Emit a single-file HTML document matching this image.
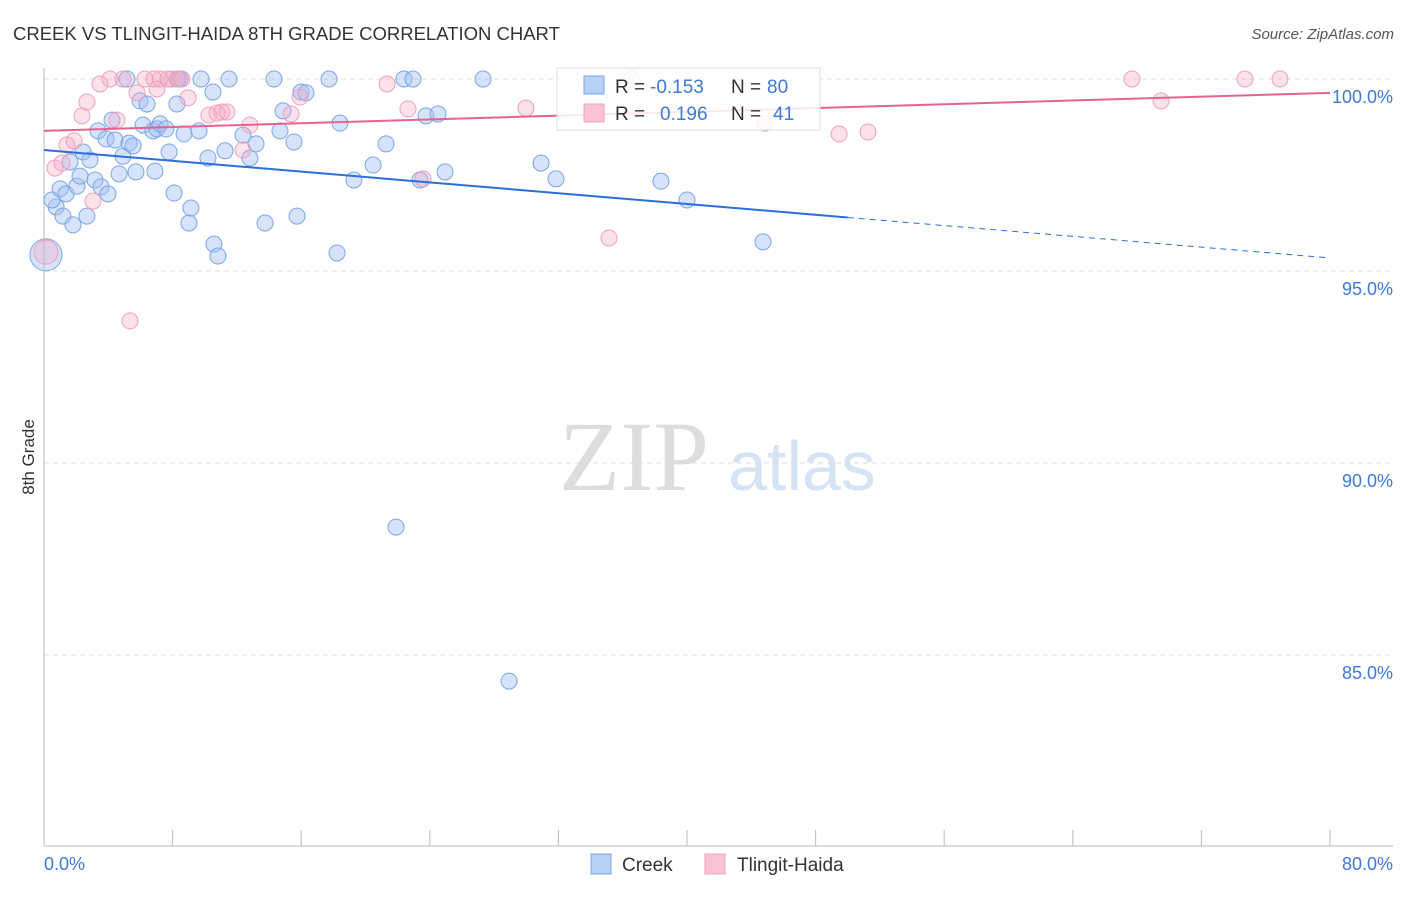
<!DOCTYPE html>
<html><head><meta charset="utf-8"><style>
body{margin:0;background:#fff;font-family:"Liberation Sans",sans-serif;}
</style></head><body>
<svg id="chart" width="1406" height="892" viewBox="0 0 1406 892" font-family="Liberation Sans, sans-serif">
<text x="13" y="40" font-size="18.5" fill="#333">CREEK VS TLINGIT-HAIDA 8TH GRADE CORRELATION CHART</text>
<text x="1394" y="39" font-size="15" fill="#555" font-style="italic" text-anchor="end">Source: ZipAtlas.com</text>
<text x="34" y="457" font-size="17" fill="#333" transform="rotate(-90 34 457)" text-anchor="middle">8th Grade</text>
<g>
<text x="634" y="490" font-size="100" fill="#ddd" style="font-family:'Liberation Serif',serif" text-anchor="middle">ZIP</text>
<text x="802" y="490" font-size="70" fill="#d6e3f5" text-anchor="middle">atlas</text>
</g>
<g id="grid"></g><g id="axes"></g><g id="pts"></g><g id="lines"></g>
<g>
<rect x="557" y="68" width="263" height="62" fill="#fff" fill-opacity="0.85" stroke="#ddd"/>
<rect x="584" y="76" width="20" height="18" fill="#b7d0f5" stroke="#7aa6e6"/>
<text y="93" font-size="19" fill="#333"><tspan x="615">R =</tspan><tspan x="650" fill="#3f78d8">-0.153</tspan><tspan x="731">N =</tspan><tspan x="767" fill="#3f78d8">80</tspan></text>
<rect x="584" y="104" width="20" height="18" fill="#f8c3d4" stroke="#f0a0bc"/>
<text y="120" font-size="19" fill="#333"><tspan x="615">R =</tspan><tspan x="660" fill="#3f78d8">0.196</tspan><tspan x="731">N =</tspan><tspan x="773" fill="#3f78d8">41</tspan></text>
</g>
<g>
<rect x="591" y="854" width="20" height="20" fill="#b7d0f5" stroke="#7aa6e6"/>
<text x="622" y="871" font-size="19" fill="#333">Creek</text>
<rect x="705" y="854" width="20" height="20" fill="#f8c3d4" stroke="#f0a0bc"/>
<text x="737" y="871" font-size="19" fill="#333">Tlingit-Haida</text>
</g>
</svg>
<script>
const creekX=[5.16,9.77,11.51,14.31,17.73,22.39,22.95,27.31,8.33,0.75,0.5,1.0,1.18,1.37,1.62,1.8,2.05,2.24,2.43,2.67,2.86,3.17,3.36,3.55,3.86,3.98,4.23,4.42,4.67,4.91,5.29,5.54,5.72,5.97,6.16,6.41,6.78,6.9,7.03,7.22,7.59,7.78,8.09,8.27,8.46,8.71,9.02,9.14,9.64,10.2,10.51,10.57,10.82,11.26,12.38,12.81,13.19,13.75,14.68,14.87,15.55,15.74,15.99,16.3,18.23,18.41,19.28,20.47,21.28,21.9,23.39,23.76,24.51,24.95,28.93,30.92,31.85,38.38,40.0,44.73];
const creekY=[100,100,100,100,100,100,100,100,100,96.67,96.85,97.14,96.43,97.01,97.84,96.2,97.21,97.47,98.1,96.43,97.89,97.37,98.65,97.19,98.44,97.01,98.93,98.41,97.53,97.99,98.33,98.26,97.58,99.43,98.8,99.35,98.65,97.6,98.7,98.83,98.7,98.1,97.03,99.35,100,98.57,96.25,96.64,98.65,97.94,99.66,95.7,95.39,98.13,98.54,97.94,98.31,96.25,98.65,99.17,98.36,96.43,99.66,99.64,95.47,98.85,97.37,97.76,98.31,88.33,97.37,99.04,99.09,97.58,84.32,97.81,97.4,97.34,96.85,95.76];
const tlX=[0.68,1.12,1.43,1.87,2.36,2.67,3.05,3.48,4.11,4.54,4.91,5.35,5.79,6.28,6.84,7.03,7.22,7.71,7.96,8.27,8.58,8.96,10.26,10.76,11.07,11.38,12.38,12.81,15.37,15.93,21.34,22.64,23.58,29.98,35.15,36.58,44.85,49.46,51.26,67.68,69.49,74.71,76.89];
const tlY=[97.68,97.81,98.28,98.39,99.04,99.4,96.82,99.87,100,98.93,100,93.7,99.64,100,100,99.74,100,100,100,100,100,99.51,99.06,99.11,99.14,99.14,98.15,98.8,99.09,99.53,99.87,99.22,97.4,99.24,95.86,100,98.85,98.57,98.62,100,99.43,100,100];
const yTicks=[100,95,90,85];
const yTickLabels=["100.0%","95.0%","90.0%","85.0%"];
const creekTrend=[98.15,95.34]; const creekSolidEnd=50;
const tlTrend=[98.65,99.64];
const X0=44,X1=1330;
const sx=v=>X0+(v/80)*(X1-X0);
const sy=v=>79+(100-v)*38.4;
const NS="http://www.w3.org/2000/svg";
function mk(t,p,a){const e=document.createElementNS(NS,t);for(const k in a)e.setAttribute(k,a[k]);p.appendChild(e);return e;}
const grid=document.getElementById('grid'),axes=document.getElementById('axes'),pts=document.getElementById('pts'),lines=document.getElementById('lines');
yTicks.forEach((t,i)=>{
 const l=mk('line',grid,{x1:X0,x2:X1+60,y1:sy(t),y2:sy(t),stroke:'#ddd','stroke-dasharray':'5,4'});
 
 
 const tx=mk('text',axes,{x:1393,y:sy(t)+24,'font-size':18,fill:'#3f78d8','text-anchor':'end'});
 tx.textContent=yTickLabels[i];
 
 
});
const ya=mk('line',axes,{x1:X0,x2:X0,y1:68,y2:846,stroke:'#bbb'});


const xa=mk('line',axes,{x1:X0,x2:1393,y1:846,y2:846,stroke:'#bbb'});


for(let v=0;v<=80;v+=8){
 const t=mk('line',axes,{x1:sx(v),x2:sx(v),y1:830,y2:846,stroke:'#bbb'});
 
 
}
[[0,'0.0%',44,'start'],[80,'80.0%',1393,'end']].forEach(d=>{
 const t=mk('text',axes,{x:d[2],y:870,'font-size':18,fill:'#3f78d8','text-anchor':d[3]});
 t.textContent=d[1];
 
 
});
const big1=mk('circle',pts,{cx:sx(0.12),cy:sy(95.42),r:16,fill:'rgba(164,194,244,0.45)',stroke:'#7aa6e6'});


const big2=mk('circle',pts,{cx:sx(0.12),cy:sy(95.49),r:12,fill:'rgba(244,170,195,0.35)',stroke:'#f0a0bc'});


creekX.forEach((x,i)=>{
 const c=mk('circle',pts,{cx:sx(x),cy:sy(creekY[i]),r:8,fill:'rgba(164,194,244,0.45)',stroke:'#7aa6e6','stroke-width':1});
 
 
});
tlX.forEach((x,i)=>{
 const c=mk('circle',pts,{cx:sx(x),cy:sy(tlY[i]),r:8,fill:'rgba(244,170,195,0.35)',stroke:'#f0a0bc','stroke-width':1});
 
 
});
const cy=x=>creekTrend[0]+(creekTrend[1]-creekTrend[0])*x/80;
const l1=mk('line',lines,{x1:sx(0),y1:sy(cy(0)),x2:sx(creekSolidEnd),y2:sy(cy(creekSolidEnd)),stroke:'#2a6fdb','stroke-width':2});


const l2=mk('line',lines,{x1:sx(creekSolidEnd),y1:sy(cy(creekSolidEnd)),x2:sx(80),y2:sy(cy(80)),stroke:'#2a6fdb','stroke-width':1,'stroke-dasharray':'6,5'});


const l3=mk('line',lines,{x1:sx(0),y1:sy(tlTrend[0]),x2:sx(80),y2:sy(tlTrend[1]),stroke:'#e8628e','stroke-width':2});


</script>
</body></html>
